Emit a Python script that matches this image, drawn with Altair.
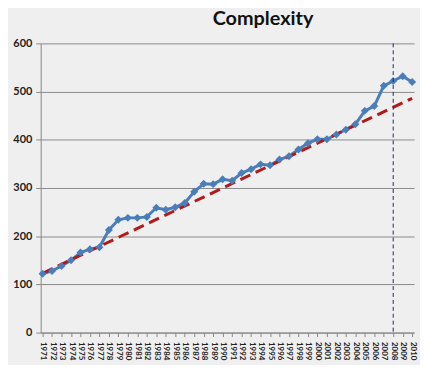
import altair as alt
import pandas as pd

years = list(range(1971, 2011))
complexity = [122, 128, 138, 150, 166, 173, 177, 213, 234, 238,
              238, 240, 259, 255, 260, 269, 292, 309, 308, 318,
              315, 331, 339, 349, 347, 359, 366, 380, 393, 401,
              401, 411, 421, 432, 460, 470, 512, 522, 532, 520]
trend_years = [1971, 2010]
trend_values = [123, 486]
marker_year = [2008]
y_ticks = [0, 100, 200, 300, 400, 500, 600]

df = pd.DataFrame({"year": years, "value": complexity})
tr = pd.DataFrame({"year": trend_years, "value": trend_values})
mk = pd.DataFrame({"year": marker_year})

FONT = "Lato"
BG = "#efefef"

x_enc = alt.X("year:O", scale=alt.Scale(type="point", padding=0.2),
              axis=alt.Axis(title=None, labelAngle=90, labelFontSize=8, labelFontWeight="bold",
                            labelColor="#222", labelPadding=5, tickColor="#888", tickSize=4,
                            domainColor="#888", grid=False, labelFont=FONT,
                            labelBaseline="middle", labelAlign="left"))
y_scale = alt.Scale(domain=[0, 600])

line = alt.Chart(df).mark_line(color="#4a7ebb", strokeWidth=3).encode(
    x=x_enc,
    y=alt.Y("value:Q", scale=y_scale,
            axis=alt.Axis(title=None, values=y_ticks, labelFontSize=11, labelFontWeight="bold",
                          labelColor="#222", gridColor="#8a8a8a", gridWidth=1, domainColor="#888",
                          tickColor="#888", tickSize=5, labelPadding=4, labelFont=FONT)),
)
pts = alt.Chart(df).mark_point(shape="diamond", filled=True, size=65, color="#4a7ebb", opacity=1).encode(
    x="year:O", y=alt.Y("value:Q", scale=y_scale))

trend = alt.Chart(tr).mark_line(
    color="#b21a1a", strokeWidth=3, strokeDash=[11, 6]).encode(
    x="year:O", y=alt.Y("value:Q", scale=y_scale))

vline = alt.Chart(mk).mark_rule(color="#1f2a6b", strokeWidth=1, strokeDash=[4, 3]).encode(x="year:O")

chart = alt.layer(line, trend, pts, vline).properties(
    width=377, height=292,
    title=alt.TitleParams("Complexity", fontSize=20, font=FONT, fontWeight="bold", color="#111",
                          anchor="middle", dx=36, offset=9),
    background=BG,
    padding={"left": 33, "top": 34, "right": 6, "bottom": 31},
    autosize=alt.AutoSizeParams(type="none"),
).configure_view(stroke=None, fill=BG)

chart.save("out.html", embed_options={"renderer": "svg", "actions": False})
